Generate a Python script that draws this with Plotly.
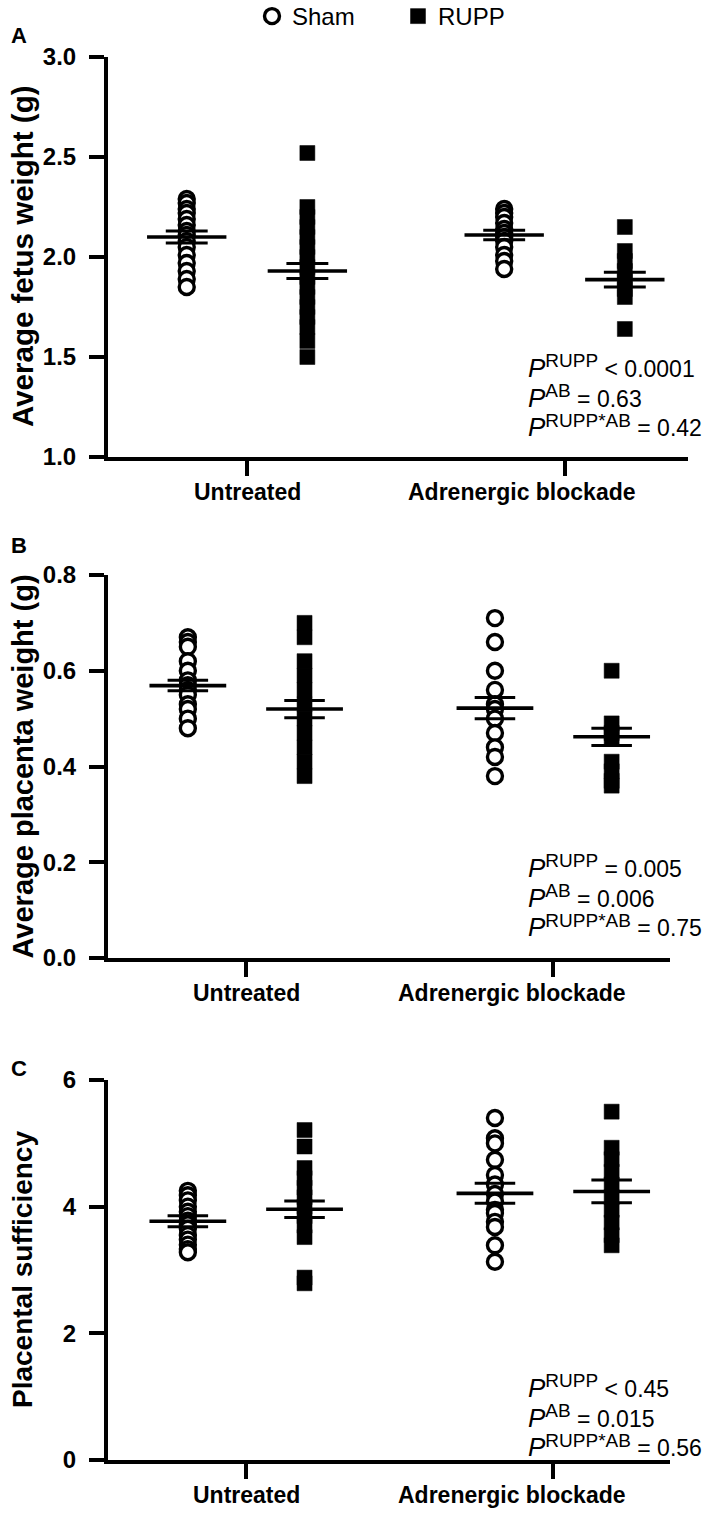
import plotly.graph_objects as go

# ---------------- data ----------------
categories = ["Untreated", "Adrenergic blockade"]
group_names = ["Sham", "RUPP"]

# Panel A: average fetus weight (g)
fetus_sham_untreated = [2.29, 2.27, 2.24, 2.22, 2.19, 2.16, 2.13, 2.11, 2.08, 2.05, 2.01, 1.97, 1.93, 1.89, 1.85]
fetus_rupp_untreated = [2.52, 2.25, 2.20, 2.15, 2.10, 2.05, 2.00, 1.95, 1.90, 1.85, 1.80, 1.75, 1.70, 1.65, 1.58, 1.50]
fetus_sham_ab = [2.24, 2.22, 2.20, 2.17, 2.14, 2.12, 2.10, 2.08, 2.05, 2.01, 1.98, 1.94]
fetus_rupp_ab = [2.15, 2.03, 1.98, 1.93, 1.88, 1.84, 1.80, 1.64]
fetus_mean_sham = [2.10, 2.11]
fetus_sem_sham = [0.030, 0.024]
fetus_mean_rupp = [1.93, 1.887]
fetus_sem_rupp = [0.038, 0.037]
fetus_ticks = [1.0, 1.5, 2.0, 2.5, 3.0]
fetus_tick_labels = ["1.0", "1.5", "2.0", "2.5", "3.0"]
fetus_p = [("RUPP", "&lt; 0.0001"), ("AB", "= 0.63"), ("RUPP*AB", "= 0.42")]

# Panel B: average placenta weight (g)
placenta_sham_untreated = [0.67, 0.66, 0.65, 0.62, 0.60, 0.58, 0.57, 0.56, 0.55, 0.53, 0.52, 0.50, 0.48]
placenta_rupp_untreated = [0.70, 0.67, 0.62, 0.59, 0.56, 0.53, 0.50, 0.47, 0.44, 0.41, 0.38]
placenta_sham_ab = [0.71, 0.66, 0.60, 0.56, 0.53, 0.52, 0.50, 0.47, 0.44, 0.42, 0.38]
placenta_rupp_ab = [0.60, 0.49, 0.47, 0.46, 0.41, 0.39, 0.37, 0.36]
placenta_mean_sham = [0.569, 0.522]
placenta_sem_sham = [0.011, 0.022]
placenta_mean_rupp = [0.520, 0.462]
placenta_sem_rupp = [0.018, 0.018]
placenta_ticks = [0.0, 0.2, 0.4, 0.6, 0.8]
placenta_tick_labels = ["0.0", "0.2", "0.4", "0.6", "0.8"]
placenta_p = [("RUPP", "= 0.005"), ("AB", "= 0.006"), ("RUPP*AB", "= 0.75")]

# Panel C: placental sufficiency
suff_sham_untreated = [4.25, 4.18, 4.10, 4.00, 3.92, 3.85, 3.78, 3.72, 3.65, 3.55, 3.48, 3.40, 3.33, 3.28]
suff_rupp_untreated = [5.21, 4.95, 4.61, 4.45, 4.30, 4.15, 4.00, 3.85, 3.70, 3.52, 2.88, 2.79]
suff_sham_ab = [5.40, 5.08, 5.00, 4.74, 4.50, 4.35, 4.20, 4.08, 3.95, 3.90, 3.76, 3.68, 3.39, 3.13]
suff_rupp_ab = [5.50, 4.93, 4.75, 4.55, 4.35, 4.15, 3.95, 3.75, 3.55, 3.39]
suff_mean_sham = [3.77, 4.21]
suff_sem_sham = [0.087, 0.158]
suff_mean_rupp = [3.96, 4.24]
suff_sem_rupp = [0.13, 0.18]
suff_ticks = [0, 2, 4, 6]
suff_tick_labels = ["0", "2", "4", "6"]
suff_p = [("RUPP", "&lt; 0.45"), ("AB", "= 0.015"), ("RUPP*AB", "= 0.56")]

titles = ["Average fetus weight (g)", "Average placenta weight (g)", "Placental sufficiency"]
panel_letters = ["A", "B", "C"]

# ---------------- layout constants ----------------
W, H = 709, 1516
FONT = "Arial, Liberation Sans, sans-serif"
cat_pos = [1, 2]
OFF = 0.19          # within-group offset of Sham / RUPP
MEAN_HALF = 0.125
SEM_HALF = 0.066

panels = [
    dict(sham=[fetus_sham_untreated, fetus_sham_ab], rupp=[fetus_rupp_untreated, fetus_rupp_ab],
         ms=fetus_mean_sham, ss=fetus_sem_sham, mr=fetus_mean_rupp, sr=fetus_sem_rupp,
         ticks=fetus_ticks, labels=fetus_tick_labels, yr=[1.0, 3.0], p=fetus_p,
         xr=[0.562, 2.389], xpx=(108, 688), ypx=(57, 457), letter_y=35,
         p_mid=396, title_size=29.5),
    dict(sham=[placenta_sham_untreated, placenta_sham_ab], rupp=[placenta_rupp_untreated, placenta_rupp_ab],
         ms=placenta_mean_sham, ss=placenta_sem_sham, mr=placenta_mean_rupp, sr=placenta_sem_rupp,
         ticks=placenta_ticks, labels=placenta_tick_labels, yr=[0.0, 0.8], p=placenta_p,
         xr=[0.55, 2.38], xpx=(108, 670), ypx=(575, 958), letter_y=545,
         p_mid=896, title_size=29),
    dict(sham=[suff_sham_untreated, suff_sham_ab], rupp=[suff_rupp_untreated, suff_rupp_ab],
         ms=suff_mean_sham, ss=suff_sem_sham, mr=suff_mean_rupp, sr=suff_sem_rupp,
         ticks=suff_ticks, labels=suff_tick_labels, yr=[0, 6], p=suff_p,
         xr=[0.55, 2.38], xpx=(108, 670), ypx=(1080, 1460), letter_y=1068,
         p_mid=1416, title_size=28),
]
label_shift = [0.0, -0.135]   # horizontal offset of the category labels (data units)

fig = go.Figure()
annotations = []
layout_axes = {}

for i, pnl in enumerate(panels):
    k = "" if i == 0 else str(i + 1)
    xa, ya = "x" + k, "y" + k
    # individual points
    for g, (vals_list, off) in enumerate([(pnl["sham"], -OFF), (pnl["rupp"], OFF)]):
        xs, ys = [], []
        for c, vals in enumerate(vals_list):
            xs += [cat_pos[c] + off] * len(vals)
            ys += vals
        if g == 0:
            marker = dict(symbol="circle", size=15, color="white", line=dict(color="black", width=3.4))
        else:
            marker = dict(symbol="square", size=15, color="black", line=dict(color="black", width=0.5))
        fig.add_trace(go.Scatter(x=xs, y=ys, mode="markers", marker=marker, name=group_names[g],
                                 showlegend=(i == 0), legendgroup=group_names[g],
                                 xaxis=xa, yaxis=ya, hoverinfo="skip", cliponaxis=False))
    # mean and SEM lines
    for means, sems, off in [(pnl["ms"], pnl["ss"], -OFF), (pnl["mr"], pnl["sr"], OFF)]:
        mx, my, sx, sy = [], [], [], []
        for c in range(2):
            xc = cat_pos[c] + off
            mx += [xc - MEAN_HALF, xc + MEAN_HALF, None]
            my += [means[c], means[c], None]
            for sgn in (1, -1):
                sx += [xc - SEM_HALF, xc + SEM_HALF, None]
                sy += [means[c] + sgn * sems[c]] * 2 + [None]
        fig.add_trace(go.Scatter(x=mx, y=my, mode="lines", line=dict(color="black", width=3.6),
                                 showlegend=False, xaxis=xa, yaxis=ya, hoverinfo="skip"))
        fig.add_trace(go.Scatter(x=sx, y=sy, mode="lines", line=dict(color="black", width=3.0),
                                 showlegend=False, xaxis=xa, yaxis=ya, hoverinfo="skip"))

    x0, x1 = pnl["xpx"]
    y0, y1 = pnl["ypx"]
    layout_axes["xaxis" + k] = dict(
        domain=[x0 / W, x1 / W], range=pnl["xr"], anchor=ya,
        tickmode="array", tickvals=cat_pos, showticklabels=False,
        showline=True, linecolor="black", linewidth=4,
        ticks="outside", ticklen=15, tickwidth=4, tickcolor="black",
        showgrid=False, zeroline=False, fixedrange=True, automargin=False,
    )
    layout_axes["yaxis" + k] = dict(
        domain=[1 - y1 / H, 1 - y0 / H], range=pnl["yr"], anchor=xa,
        tickmode="array", tickvals=pnl["ticks"], ticktext=pnl["labels"],
        showline=True, linecolor="black", linewidth=4,
        ticks="outside", ticklen=15, tickwidth=4, tickcolor="black", ticklabelstandoff=8,
        showgrid=False, zeroline=False, fixedrange=True, automargin=False,
        tickfont=dict(family=FONT, size=24, color="black", weight="bold"),
    )
    # category labels
    for c in range(2):
        annotations.append(dict(text="<b>" + categories[c] + "</b>", xref=xa, yref="paper",
                                x=cat_pos[c] + label_shift[c], y=1 - (y1 + 35) / H,
                                showarrow=False, xanchor="center", yanchor="middle",
                                font=dict(family=FONT, size=23, color="black")))
    # y title
    annotations.append(dict(text="<b>" + titles[i] + "</b>", textangle=-90, xref="paper", yref="paper",
                            x=22 / W, y=1 - (y0 + y1) / 2 / H, showarrow=False,
                            xanchor="center", yanchor="middle",
                            font=dict(family=FONT, size=pnl["title_size"], color="black")))
    # panel letter
    annotations.append(dict(text="<b>" + panel_letters[i] + "</b>", xref="paper", yref="paper",
                            x=19 / W, y=1 - pnl["letter_y"] / H, showarrow=False,
                            xanchor="center", yanchor="middle",
                            font=dict(family=FONT, size=22, color="black")))
    # P values (one block of three lines)
    lines = ['<span style="font-size:26px"><i>P</i></span><sup><span style="font-size:19px">'
             + sup + '</span></sup> ' + rest for sup, rest in pnl["p"]]
    annotations.append(dict(text="<br>".join(lines), xref="paper", yref="paper",
                            x=526 / W, y=1 - pnl["p_mid"] / H, align="left",
                            showarrow=False, xanchor="left", yanchor="middle",
                            font=dict(family=FONT, size=23, color="black")))

fig.update_layout(
    template="none",
    width=W, height=H, margin=dict(l=0, r=0, t=0, b=0, autoexpand=False),
    paper_bgcolor="white", plot_bgcolor="white",
    showlegend=True,
    legend=dict(orientation="h", x=252 / W, xanchor="left", y=1 + 6 / H, yanchor="top",
                entrywidth=101, entrywidthmode="pixels",
                font=dict(family=FONT, size=24, color="black"), bgcolor="rgba(0,0,0,0)",
                itemclick=False, itemdoubleclick=False),
    annotations=annotations,
    **layout_axes,
)

fig.write_html("out.html", config={"displayModeBar": False, "staticPlot": True},
               post_script="document.body.style.margin='0';document.body.style.padding='0';"
                           "document.documentElement.style.margin='0';")
